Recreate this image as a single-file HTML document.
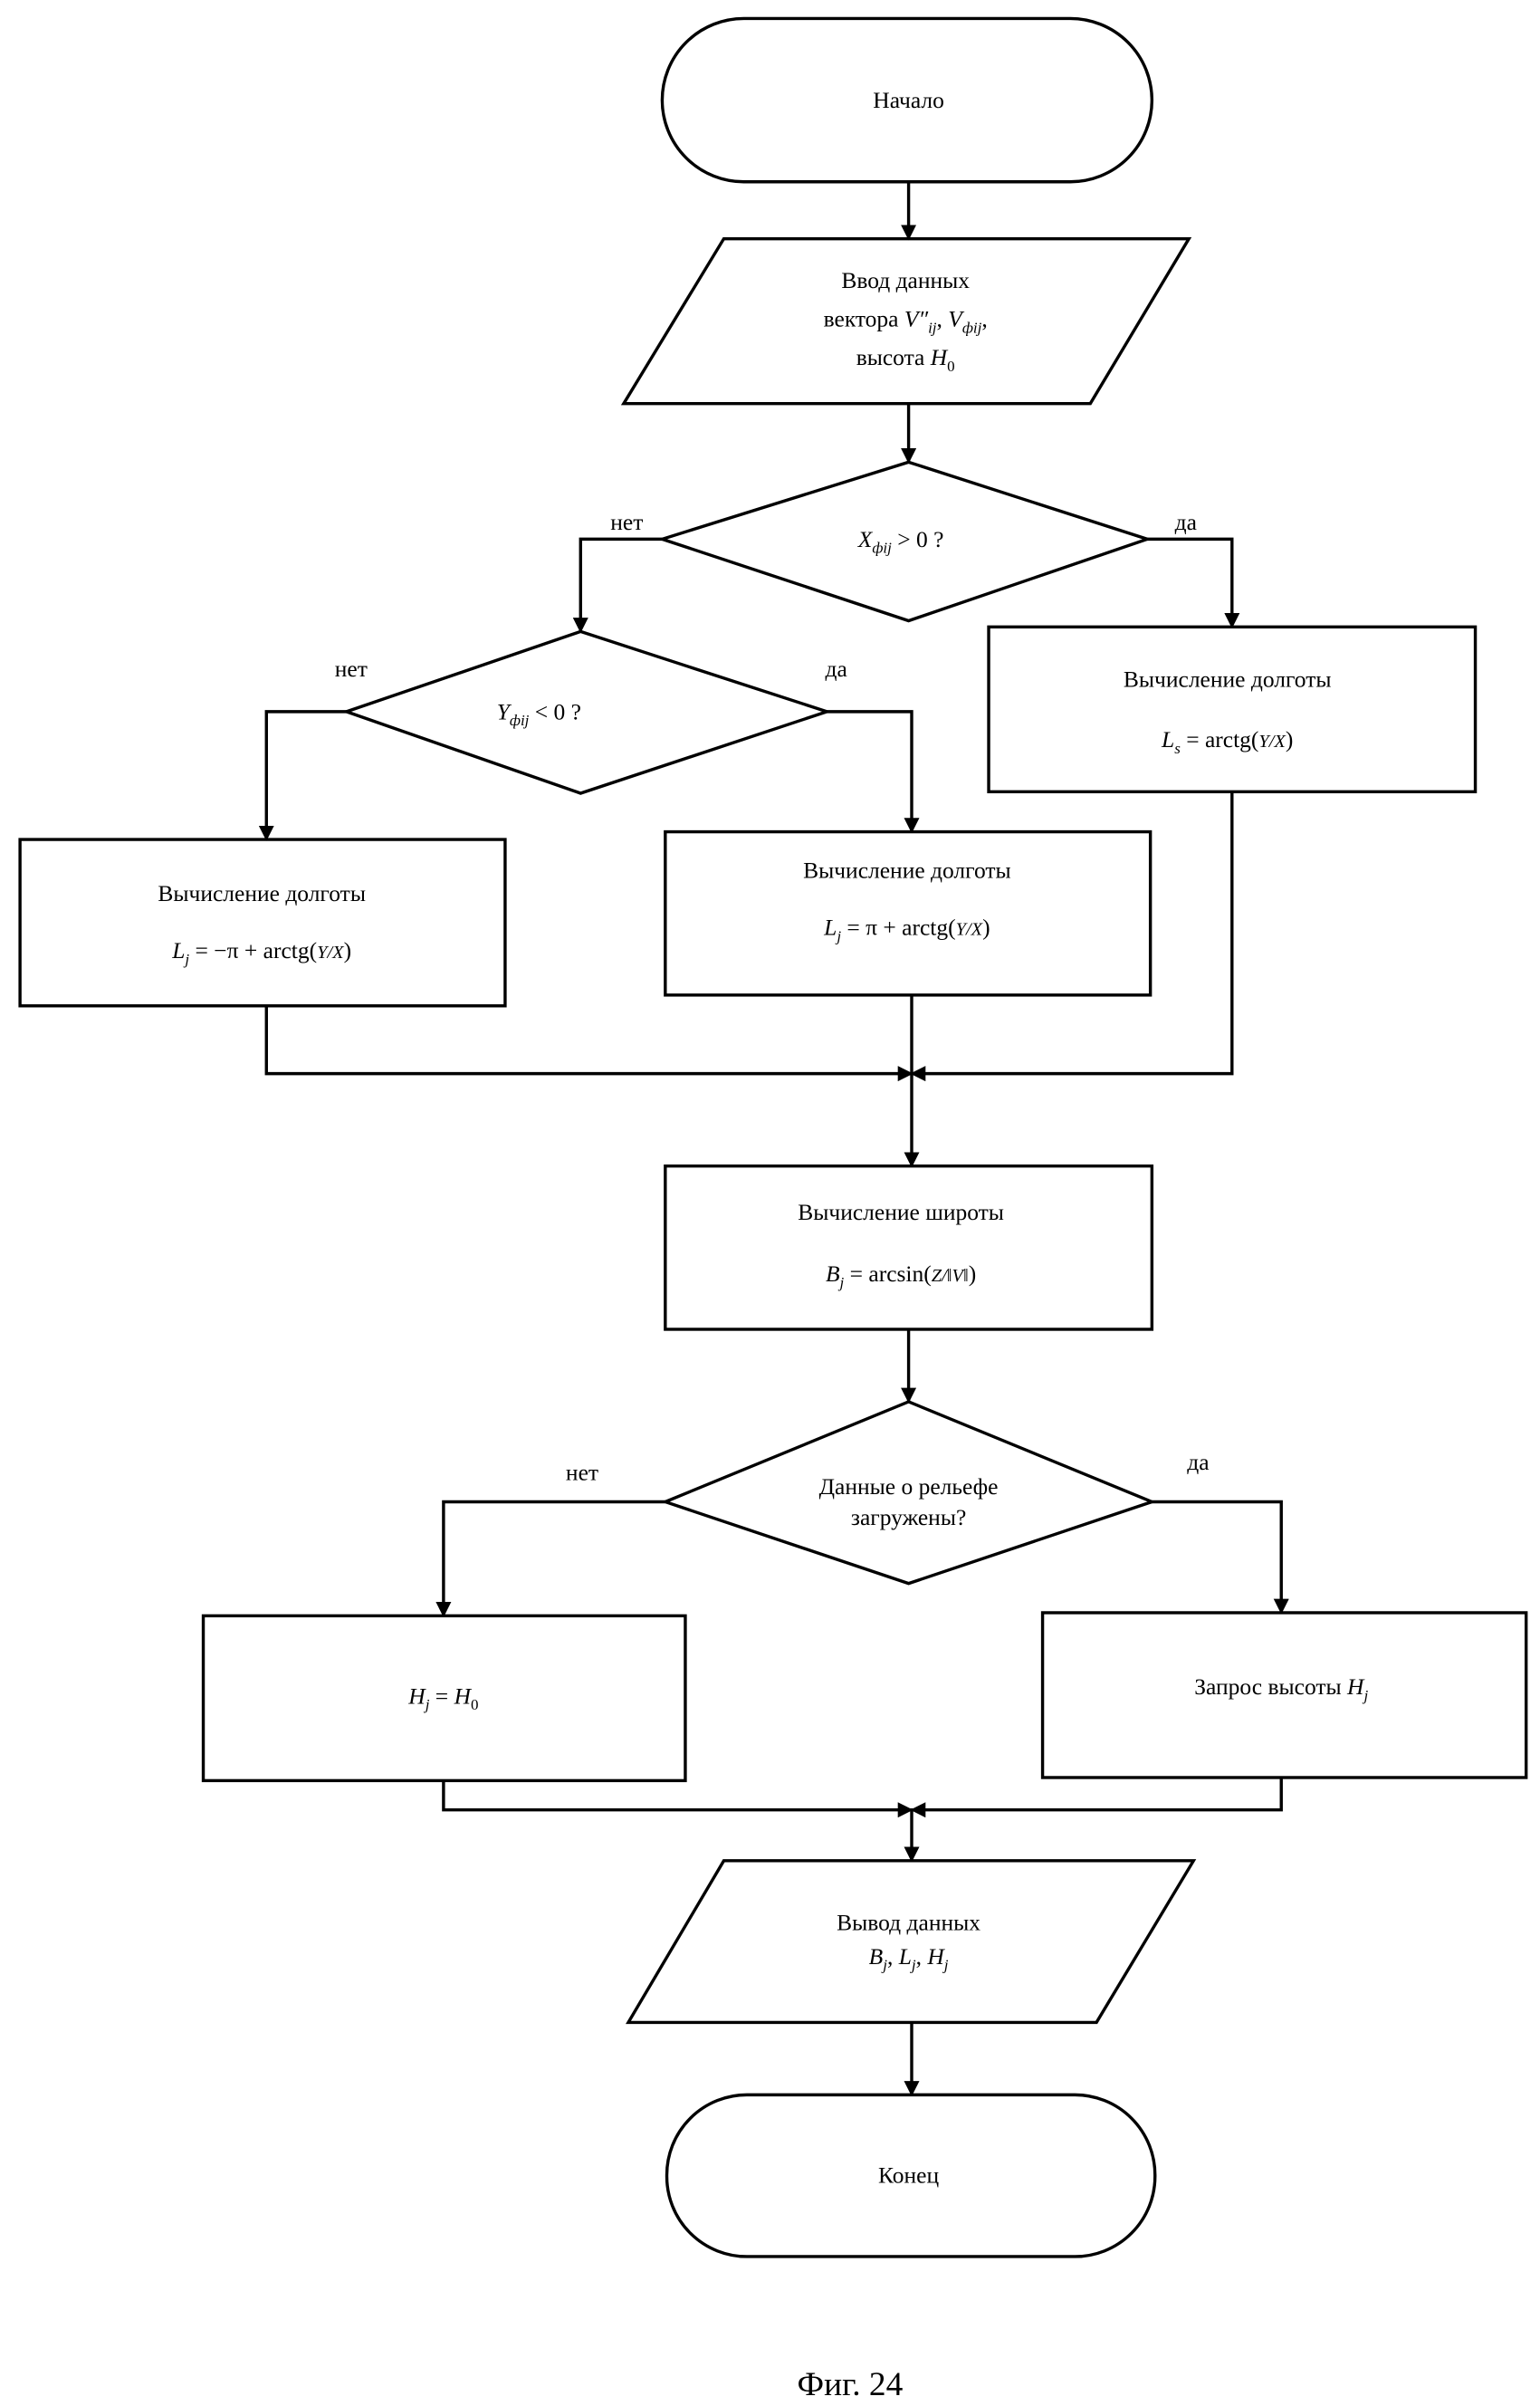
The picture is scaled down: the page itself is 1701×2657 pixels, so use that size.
<!DOCTYPE html>
<html><head><meta charset="utf-8"><style>
html,body{margin:0;padding:0;background:#fff;}
svg{display:block;}
text{font-family:"Liberation Serif",serif;font-size:15px;fill:#000;text-anchor:middle;}
.m{font-style:italic;}
</style></head><body>
<svg width="1701" height="2657" viewBox="0 0 1000 1562" xmlns="http://www.w3.org/2000/svg">
<defs><marker id="a" markerWidth="10" markerHeight="10" refX="5" refY="9" orient="auto" markerUnits="userSpaceOnUse"><path d="M0,0 L10,0 L5,10 z" transform="rotate(0)" fill="#000"/></marker>
<marker id="ar" viewBox="0 0 10 10" markerWidth="10" markerHeight="10" refX="9" refY="5" orient="auto" markerUnits="userSpaceOnUse"><path d="M0,0 L10,5 L0,10 z" fill="#000"/></marker></defs>
<g fill="none" stroke="#000" stroke-width="2">
<rect x="430" y="12" width="318" height="106" rx="53"/>
<polygon points="470,155 772,155 708,262 405,262"/>
<polygon points="590,300 745,350 590,403 430,350"/>
<polygon points="377,410 537,462 377,515 225,462"/>
<rect x="13" y="545" width="315" height="108"/>
<rect x="432" y="540" width="315" height="106"/>
<rect x="642" y="407" width="316" height="107"/>
<rect x="432" y="757" width="316" height="106"/>
<polygon points="590,910 748,975 590,1028 432,975"/>
<rect x="132" y="1049" width="313" height="107"/>
<rect x="677" y="1047" width="314" height="107"/>
<polygon points="470,1208 775,1208 712,1313 408,1313"/>
<rect x="433" y="1360" width="317" height="105" rx="52"/>
</g>
<g fill="none" stroke="#000" stroke-width="2" marker-end="url(#ar)">
<path d="M590,118 V155"/>
<path d="M590,262 V300"/>
<path d="M430,350 H377 V410"/>
<path d="M745,350 H800 V407"/>
<path d="M225,462 H173 V545"/>
<path d="M537,462 H592 V540"/>
<path d="M173,653 V697 H592"/>
<path d="M800,514 V697 H592"/>
<path d="M592,646 V757"/>
<path d="M590,863 V910"/>
<path d="M432,975 H288 V1049"/>
<path d="M748,975 H832 V1047"/>
<path d="M288,1156 V1175 H592"/>
<path d="M832,1154 V1175 H592"/>
<path d="M592,1175 V1208"/>
<path d="M592,1313 V1360"/>
</g>
<text x="590" y="70">Начало</text>
<text x="588" y="187">Ввод данных</text>
<text x="588" y="212">вектора <tspan class="m">V″</tspan><tspan class="m" font-size="10" dy="4">ij</tspan><tspan dy="-4">, </tspan><tspan class="m">V</tspan><tspan class="m" font-size="10" dy="4">фij</tspan><tspan dy="-4">,</tspan></text>
<text x="588" y="237">высота <tspan class="m">H</tspan><tspan font-size="10" dy="4">0</tspan></text>
<text x="585" y="355"><tspan class="m">X</tspan><tspan class="m" font-size="10" dy="4">фij</tspan><tspan dy="-4"> &gt; 0 ?</tspan></text>
<text x="407" y="344">нет</text><text x="770" y="344">да</text>
<text x="350" y="467"><tspan class="m">Y</tspan><tspan class="m" font-size="10" dy="4">фij</tspan><tspan dy="-4"> &lt; 0 ?</tspan></text>
<text x="228" y="439">нет</text><text x="543" y="439">да</text>
<text x="797" y="446">Вычисление долготы</text>
<text x="797" y="485"><tspan class="m">L</tspan><tspan class="m" font-size="10" dy="4">s</tspan><tspan dy="-4"> = arctg(</tspan><tspan class="m" font-size="12">Y/X</tspan><tspan>)</tspan></text>
<text x="170" y="585">Вычисление долготы</text>
<text x="170" y="622"><tspan class="m">L</tspan><tspan class="m" font-size="10" dy="4">j</tspan><tspan dy="-4"> = −π + arctg(</tspan><tspan class="m" font-size="12">Y/X</tspan><tspan>)</tspan></text>
<text x="589" y="570">Вычисление долготы</text>
<text x="589" y="607"><tspan class="m">L</tspan><tspan class="m" font-size="10" dy="4">j</tspan><tspan dy="-4"> = π + arctg(</tspan><tspan class="m" font-size="12">Y/X</tspan><tspan>)</tspan></text>
<text x="585" y="792">Вычисление широты</text>
<text x="585" y="832"><tspan class="m">B</tspan><tspan class="m" font-size="10" dy="4">j</tspan><tspan dy="-4"> = arcsin(</tspan><tspan class="m" font-size="12">Z/‖V‖</tspan><tspan>)</tspan></text>
<text x="590" y="970">Данные о рельефе</text>
<text x="590" y="990">загружены?</text>
<text x="378" y="961">нет</text><text x="778" y="954">да</text>
<text x="288" y="1106"><tspan class="m">H</tspan><tspan class="m" font-size="10" dy="4">j</tspan><tspan dy="-4"> = </tspan><tspan class="m">H</tspan><tspan font-size="10" dy="4">0</tspan></text>
<text x="832" y="1100">Запрос высоты <tspan class="m">H</tspan><tspan class="m" font-size="10" dy="4">j</tspan></text>
<text x="590" y="1253">Вывод данных</text>
<text x="590" y="1275"><tspan class="m">B</tspan><tspan class="m" font-size="10" dy="4">j</tspan><tspan dy="-4">, </tspan><tspan class="m">L</tspan><tspan class="m" font-size="10" dy="4">j</tspan><tspan dy="-4">, </tspan><tspan class="m">H</tspan><tspan class="m" font-size="10" dy="4">j</tspan></text>
<text x="590" y="1417">Конец</text>
<text x="552" y="1555" style="font-size:22px">Фиг. 24</text>
</svg>
</body></html>
